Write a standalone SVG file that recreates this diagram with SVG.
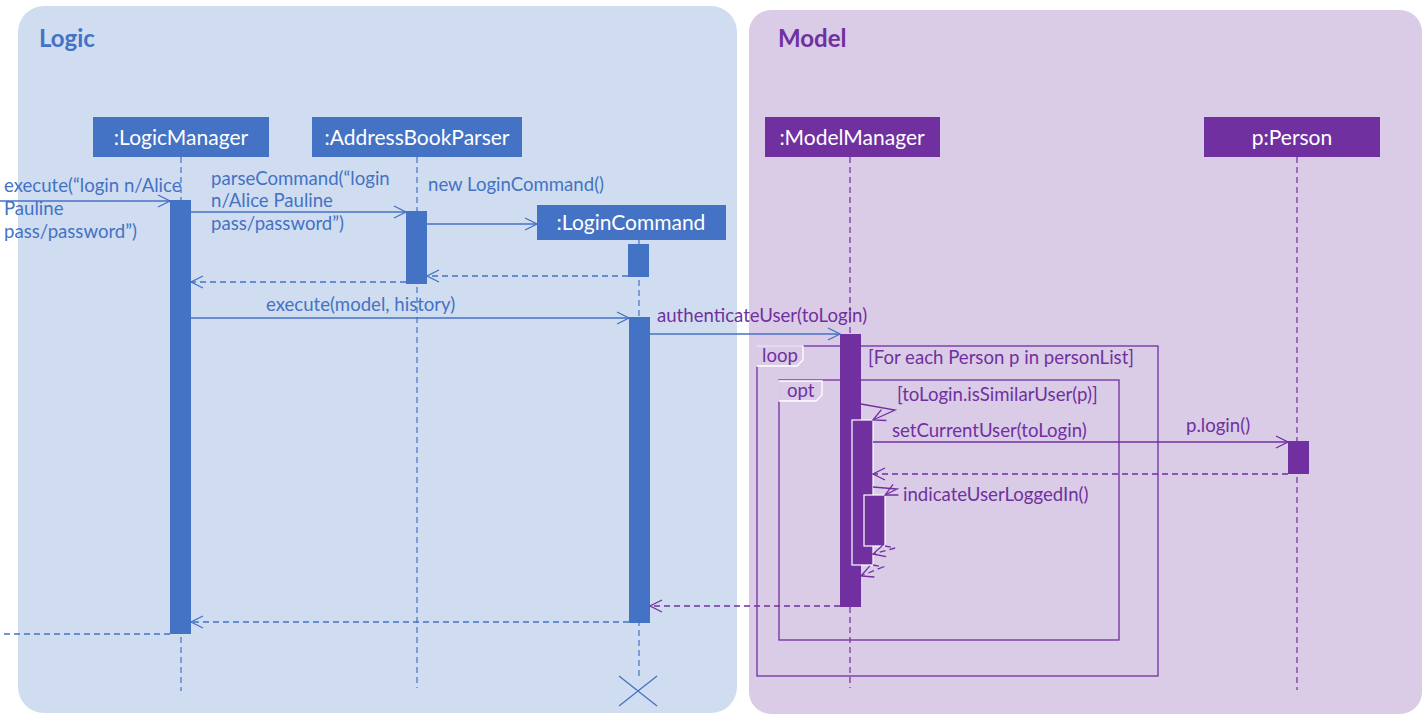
<svg xmlns="http://www.w3.org/2000/svg" width="1428" height="720" viewBox="0 0 1428 720">
<defs>
<style>
text{font-family:Lato,"Liberation Sans",sans-serif}
.hdrB{fill:#4472C4}
.hdrP{fill:#7030A0}
.hdrT{fill:#fff;font-size:21px;text-anchor:middle}
.bl{fill:#4472C4;font-size:18.6px}
.pt{fill:#7030A0;font-size:18.6px}
.lifeB{stroke:#4472C4;stroke-width:1.2;stroke-dasharray:6 4;fill:none}
.lifeP{stroke:#7030A0;stroke-width:1.2;stroke-dasharray:6 4;fill:none}
.msgB{stroke:#4472C4;stroke-width:1.3;fill:none}
.msgP{stroke:#7030A0;stroke-width:1.3;fill:none}
.retB{stroke:#4472C4;stroke-width:1.3;fill:none;stroke-dasharray:6 4}
.retP{stroke:#7030A0;stroke-width:1.3;fill:none;stroke-dasharray:6 4}
.actB{fill:#4472C4}
.actP{fill:#7030A0}
.actPw{fill:#7030A0;stroke:#fff;stroke-width:1.2}
.frame{fill:none;stroke:#7030A0;stroke-width:1.3}
.tab{fill:none;stroke:#fff;stroke-width:1.3}
</style>
<marker id="arB" markerWidth="14" markerHeight="14" refX="13" refY="7" orient="auto" markerUnits="userSpaceOnUse"><path d="M1,1 L13,7 L1,13" fill="none" stroke="#4472C4" stroke-width="1.3"/></marker>
<marker id="arP" markerWidth="14" markerHeight="14" refX="13" refY="7" orient="auto" markerUnits="userSpaceOnUse"><path d="M1,1 L13,7 L1,13" fill="none" stroke="#7030A0" stroke-width="1.3"/></marker>
</defs>
<rect width="1428" height="720" fill="#fff"/>
<g id="panel-logic">
<rect x="18" y="6" width="719" height="707" rx="26" fill="#D0DDF0"/>
<text x="39" y="47" font-size="24" font-weight="bold" fill="#4472C4">Logic</text>
</g>
<g id="panel-model">
<rect x="749" y="10" width="673" height="704" rx="22" fill="#DACBE6"/>
<text x="778" y="47" font-size="24" font-weight="bold" fill="#7030A0">Model</text>
</g>
<g id="lifelines">
<line class="lifeB" x1="181" y1="157" x2="181" y2="691"/>
<line class="lifeB" x1="417" y1="157" x2="417" y2="688"/>
<line class="lifeB" x1="639" y1="240" x2="639" y2="676"/>
<line class="lifeP" x1="850" y1="157" x2="850" y2="688"/>
<line class="lifeP" x1="1297" y1="157" x2="1297" y2="690"/>
</g>
<g id="node-logicmanager">
<rect class="hdrB" x="93" y="117" width="176" height="40"/>
<text class="hdrT" x="181" y="145">:LogicManager</text>
<rect class="actB" x="170" y="200" width="21" height="434"/>
</g>
<g id="node-addressbookparser">
<rect class="hdrB" x="312" y="117" width="210" height="40"/>
<text class="hdrT" x="417" y="145">:AddressBookParser</text>
<rect class="actB" x="406" y="211" width="21" height="73"/>
</g>
<g id="node-logincommand">
<rect class="hdrB" x="537" y="205" width="189" height="35"/>
<text class="hdrT" x="631" y="230">:LoginCommand</text>
<rect class="actB" x="628" y="244" width="21" height="33"/>
<rect class="actB" x="629" y="317" width="21" height="306"/>
<path d="M619,676 L657,706 M657,676 L619,706" stroke="#4472C4" stroke-width="1.3" fill="none"/>
</g>
<g id="node-modelmanager">
<rect class="hdrP" x="765" y="117" width="175" height="40"/>
<text class="hdrT" x="852" y="145">:ModelManager</text>
<rect class="actP" x="840" y="334" width="21" height="273"/>
<rect class="actPw" x="852" y="420" width="21" height="145"/>
<rect class="actPw" x="864" y="495" width="21" height="51"/>
</g>
<g id="node-person">
<rect class="hdrP" x="1204" y="117" width="176" height="40"/>
<text class="hdrT" x="1292" y="145">p:Person</text>
<rect class="actP" x="1288" y="441" width="21" height="33"/>
</g>
<g id="frames">
<rect class="frame" x="757" y="346" width="401" height="330"/>
<path class="tab" d="M757,346 H803 V360 L797,366 H757 Z"/>
<text class="pt" x="762" y="362" font-size="16">loop</text>
<text class="pt" x="868" y="364">[For each Person p in personList]</text>
<rect class="frame" x="779" y="380" width="340" height="260"/>
<path class="tab" d="M779,381 H822 V395 L816,401 H779 Z"/>
<text class="pt" x="787" y="397" font-size="16">opt</text>
<text class="pt" x="897" y="401">[toLogin.isSimilarUser(p)]</text>
</g>
<g id="connectors">
<line class="msgB" x1="0" y1="201" x2="170" y2="201" marker-end="url(#arB)"/>
<text class="bl" x="4" y="192">execute(“login n/Alice</text>
<text class="bl" x="4" y="215">Pauline</text>
<text class="bl" x="4" y="238">pass/password”)</text>
<line class="msgB" x1="191" y1="212" x2="406" y2="212" marker-end="url(#arB)"/>
<text class="bl" x="211" y="185">parseCommand(“login</text>
<text class="bl" x="211" y="207">n/Alice Pauline</text>
<text class="bl" x="211" y="230">pass/password”)</text>
<line class="msgB" x1="427" y1="224" x2="537" y2="224" marker-end="url(#arB)"/>
<text class="bl" x="428" y="191">new LoginCommand()</text>
<line class="retB" x1="628" y1="276" x2="427" y2="276" marker-end="url(#arB)"/>
<line class="retB" x1="406" y1="282" x2="191" y2="282" marker-end="url(#arB)"/>
<line class="msgB" x1="191" y1="318" x2="629" y2="318" marker-end="url(#arB)"/>
<text class="bl" x="266" y="311">execute(model, history)</text>
<line class="msgB" x1="650" y1="334" x2="840" y2="334" marker-end="url(#arB)"/>
<text class="pt" x="657" y="322">authenticateUser(toLogin)</text>
<polyline class="msgP" points="861,404 895,410 873,420" marker-end="url(#arP)"/>
<line class="msgP" x1="873" y1="442" x2="1288" y2="442" marker-end="url(#arP)"/>
<text class="pt" x="892" y="437">setCurrentUser(toLogin)</text>
<text class="pt" x="1186" y="432">p.login()</text>
<line class="retP" x1="1288" y1="474" x2="873" y2="474" marker-end="url(#arP)"/>
<polyline class="msgP" points="873,487 897,489 885,495" marker-end="url(#arP)"/>
<text class="pt" x="903" y="501">indicateUserLoggedIn()</text>
<polyline class="retP" points="885,546 895,548 873,554" marker-end="url(#arP)"/>
<polyline class="retP" points="873,565 883,567 861,576" marker-end="url(#arP)"/>
<line class="retP" x1="840" y1="606" x2="650" y2="606" marker-end="url(#arP)"/>
<line class="retB" x1="629" y1="622" x2="191" y2="622" marker-end="url(#arB)"/>
<line class="retB" x1="170" y1="634" x2="0" y2="634"/>
</g>
</svg>
